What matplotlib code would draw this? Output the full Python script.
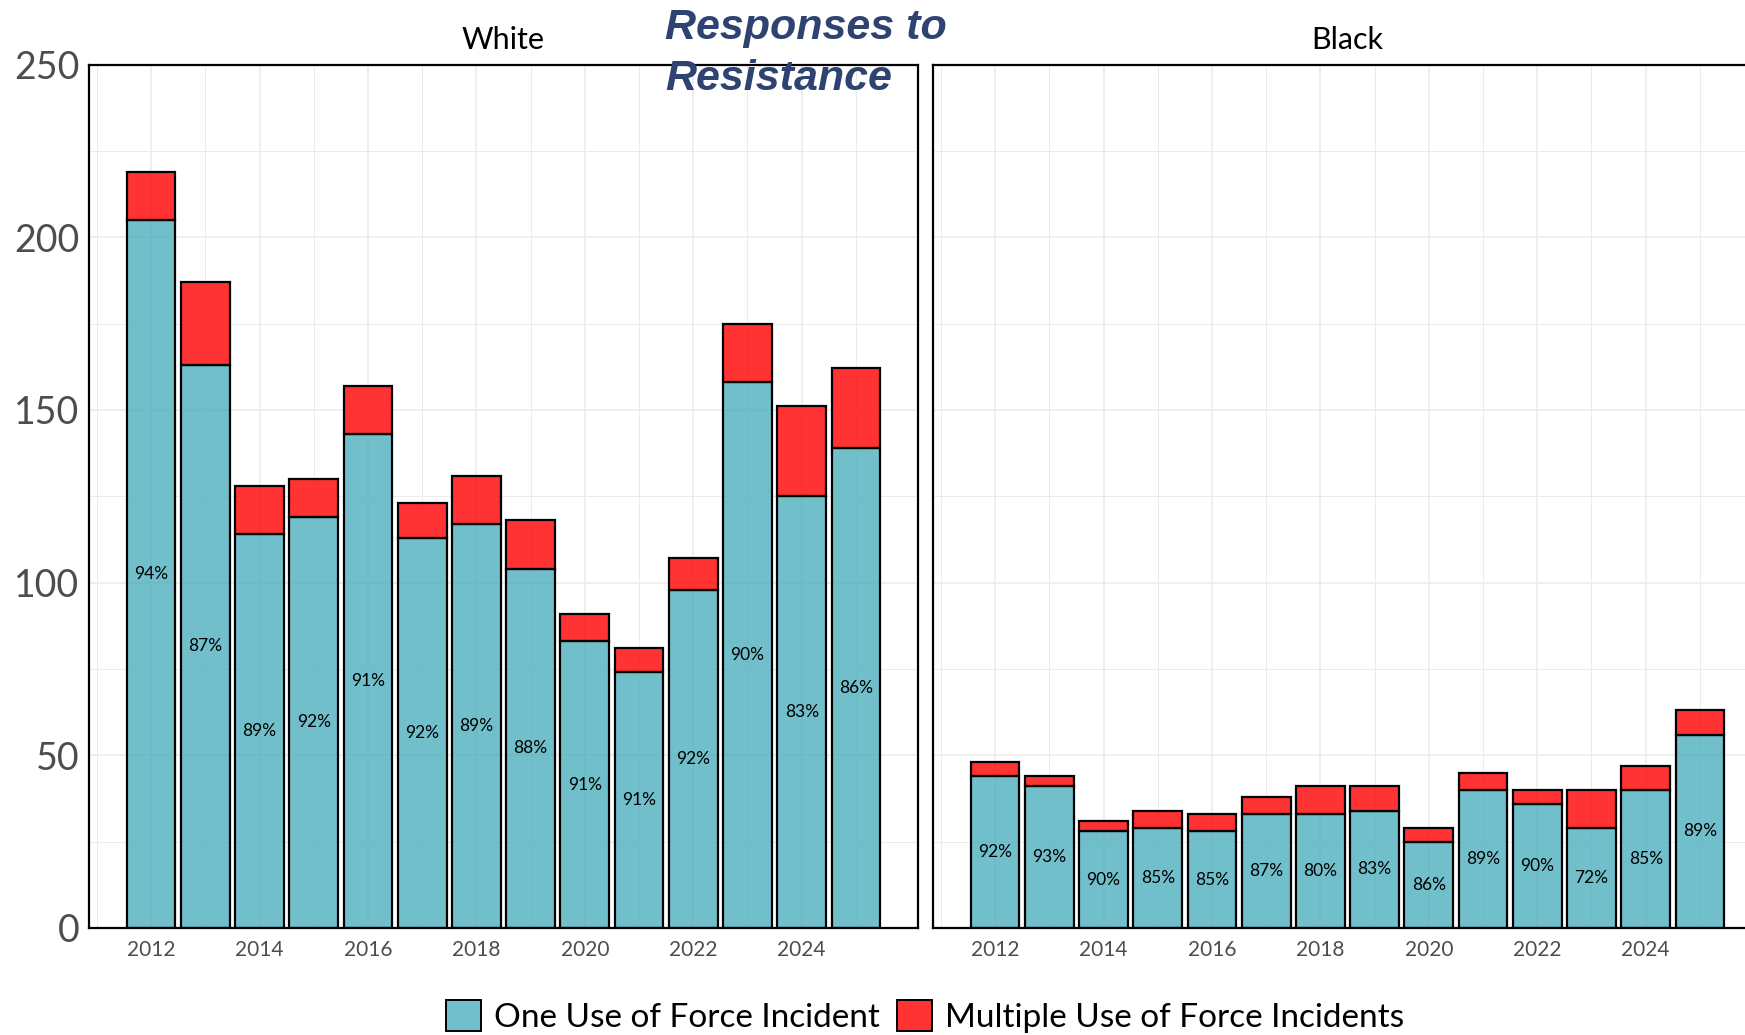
#%% Library
import numpy as np
import matplotlib.pyplot as plt
from matplotlib.patches import Patch

#%% data
years = np.arange(2012, 2026)

white_one = [205, 163, 114, 119, 143, 113, 117, 104, 83, 74, 98, 158, 125, 139]
white_multi = [14, 24, 14, 11, 14, 10, 14, 14, 8, 7, 9, 17, 26, 23]

black_one = [44, 41, 28, 29, 28, 33, 33, 34, 25, 40, 36, 29, 40, 56]
black_multi = [4, 3, 3, 5, 5, 5, 8, 7, 4, 5, 4, 11, 7, 7]

panels = ['White', 'Black']
legend_labels = ['One Use of Force Incident', 'Multiple Use of Force Incidents']
x_ticks = [2012, 2014, 2016, 2018, 2020, 2022, 2024]
y_ticks = [0, 50, 100, 150, 200, 250]

#%% style
FONT = 'Lato'
TEAL = (0x4D / 255, 0xAF / 255, 0xBE / 255, 0.8)
RED = (1.0, 0.0, 0.0, 0.8)
GRID = '#EBEBEB'

fig = plt.figure(figsize=(17.45, 10.35), dpi=100)

W, H = 1745, 1035
ax_w = 829 / W
ax_b = (H - 928) / H
ax_h = (928 - 64.5) / H
axes = [fig.add_axes([89 / W, ax_b, ax_w, ax_h]),
        fig.add_axes([933 / W, ax_b, ax_w, ax_h])]

#%% draw
for ax, name, one, multi in zip(axes, panels, [white_one, black_one], [white_multi, black_multi]):
    ax.set_axisbelow(True)
    ax.bar(years, one, width=0.9, facecolor=TEAL, edgecolor='black', linewidth=1.6)
    ax.bar(years, multi, bottom=one, width=0.9, facecolor=RED, edgecolor='black', linewidth=1.6)

    for yr, o, m in zip(years, one, multi):
        pct = round(100 * o / (o + m))
        ax.text(yr, o / 2, f'{pct}%', ha='center', va='center', fontsize=12.5,
                family=FONT, color='black')

    ax.set_xlim(2010.855, 2026.145)
    ax.set_ylim(0, 250)
    ax.set_xticks(x_ticks)
    ax.set_xticks(np.arange(2011, 2027, 2), minor=True)
    ax.set_yticks(y_ticks)
    ax.set_yticks(np.arange(25, 250, 50), minor=True)
    ax.grid(which='major', color=GRID, linewidth=1.1)
    ax.grid(which='minor', color=GRID, linewidth=0.7)
    ax.tick_params(which='both', length=0)
    ax.tick_params(axis='x', labelsize=15, labelcolor='#4D4D4D', pad=9)
    ax.tick_params(axis='y', labelsize=27, labelcolor='#4D4D4D', pad=7)
    for lab in ax.get_xticklabels() + ax.get_yticklabels():
        lab.set_family(FONT)
    for sp in ax.spines.values():
        sp.set_linewidth(1.6)
        sp.set_color('black')
    ax.set_title(name, fontsize=22, family=FONT, pad=11)

axes[1].tick_params(axis='y', labelleft=False)

fig.text(665 / W, 1 - 8 / H, 'Responses to\nResistance', ha='left', va='top',
         fontsize=31, fontweight='bold', fontstyle='italic', color='#2E4372',
         family='Liberation Sans', linespacing=1.35)

handles = [Patch(facecolor=TEAL, edgecolor='black', linewidth=1.4),
           Patch(facecolor=RED, edgecolor='black', linewidth=1.4)]
fig.legend(handles, legend_labels, loc='center', bbox_to_anchor=(925 / W, 0.018),
           ncol=2, frameon=False, prop={'family': FONT, 'size': 24},
           handlelength=1.05, handleheight=1.05, handletextpad=0.4, columnspacing=0.5)

fig.savefig('out.png', dpi=100)
